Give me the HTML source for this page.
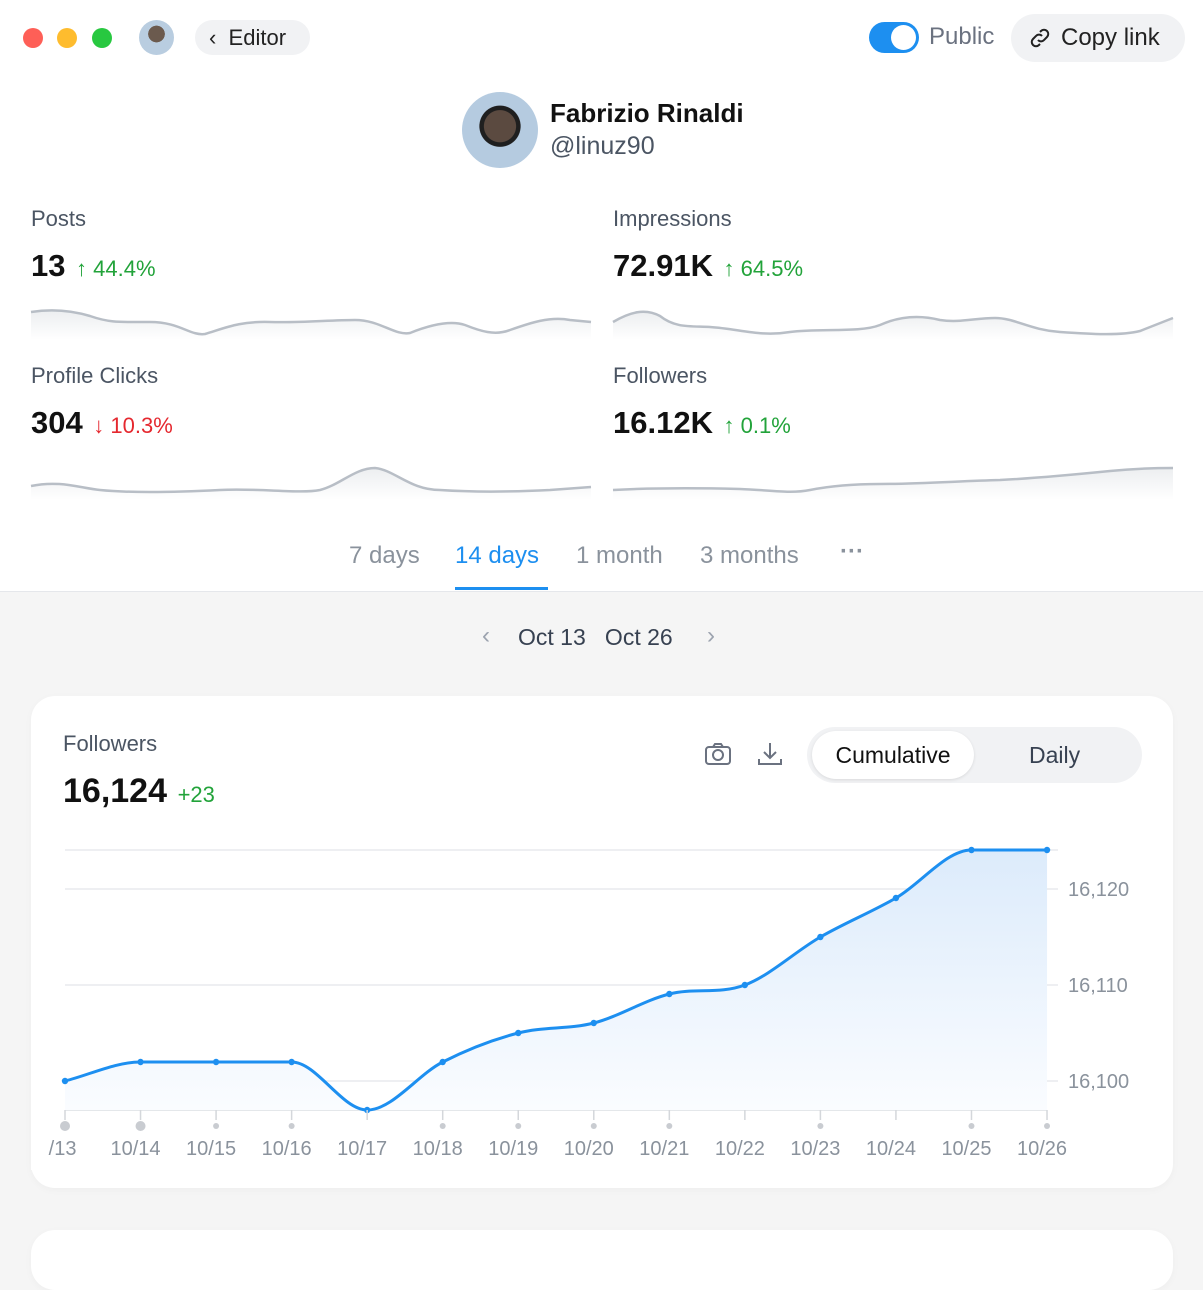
<!DOCTYPE html>
<html><head><meta charset="utf-8"><style>
*{box-sizing:border-box;margin:0;padding:0}
body{width:1203px;height:1259px;overflow:hidden;font-family:"Liberation Sans",sans-serif;background:#f5f5f5;position:relative;color:#111}
.top{position:absolute;left:0;top:0;width:1203px;height:592px;background:#fff;border-bottom:1px solid #e5e7eb}
.abs{position:absolute}
.dot{position:absolute;top:28px;width:20px;height:20px;border-radius:50%}
.lbl{color:#4b5563;font-size:22px}
.big{font-size:31px;font-weight:bold;color:#111}
.up{color:#22a33a;font-size:22px}
.dn{color:#e5282f;font-size:22px}
.tab{position:absolute;top:542px;font-size:24px;color:#8a929c}
.card{position:absolute;left:31px;width:1142px;background:#fff;border-radius:24px;box-shadow:0 2px 8px rgba(0,0,0,0.03)}
</style></head><body>
<div class="top"></div>
<div class="dot" style="left:23px;background:#fe5f57"></div>
<div class="dot" style="left:57px;background:#febc2e"></div>
<div class="dot" style="left:92px;background:#28c840"></div>
<div class="abs" style="left:139px;top:20px;width:35px;height:35px;border-radius:50%;background:radial-gradient(circle at 50% 40%,#6b5a4e 0 30%,#b9cde0 31%)"></div>
<div class="abs" style="left:195px;top:20px;width:115px;height:35px;border-radius:18px;background:#f1f2f4;font-size:22px;line-height:35px;padding-left:14px;color:#222">‹&nbsp; Editor</div>
<div class="abs" style="left:869px;top:22px;width:50px;height:31px;border-radius:16px;background:#1d8ff0"><div style="position:absolute;right:3px;top:3px;width:25px;height:25px;border-radius:50%;background:#fff"></div></div>
<div class="abs" style="left:929px;top:23px;font-size:24px;color:#6b7280">Public</div>
<div class="abs" style="left:1011px;top:14px;width:174px;height:48px;border-radius:24px;background:#f1f2f4;font-size:24px;line-height:48px;padding-left:50px;color:#222">Copy link</div>
<svg class="abs" style="left:1028px;top:26px" width="24" height="24" viewBox="0 0 24 24" fill="none" stroke="#222" stroke-width="2"><path d="M10 14a4 4 0 0 0 6 0l3-3a4 4 0 0 0-6-6l-1 1"/><path d="M14 10a4 4 0 0 0-6 0l-3 3a4 4 0 0 0 6 6l1-1"/></svg>
<div class="abs" style="left:462px;top:92px;width:76px;height:76px;border-radius:50%;background:radial-gradient(circle at 50% 45%,#5b4a40 0 28%,#1f1f1f 29% 36%,#b5cbe0 37%)"></div>
<div class="abs" style="left:550px;top:98px;font-size:26px;font-weight:bold;color:#111">Fabrizio Rinaldi</div>
<div class="abs" style="left:550px;top:132px;font-size:25px;color:#4b5563">@linuz90</div>

<div class="abs lbl" style="left:31px;top:206px">Posts</div>
<div class="abs" style="left:31px;top:248px"><span class="big">13</span> <span class="up">&nbsp;↑ 44.4%</span></div>
<div class="abs lbl" style="left:613px;top:206px">Impressions</div>
<div class="abs" style="left:613px;top:248px"><span class="big">72.91K</span> <span class="up">&nbsp;↑ 64.5%</span></div>
<div class="abs lbl" style="left:31px;top:363px">Profile Clicks</div>
<div class="abs" style="left:31px;top:405px"><span class="big">304</span> <span class="dn">&nbsp;↓ 10.3%</span></div>
<div class="abs lbl" style="left:613px;top:363px">Followers</div>
<div class="abs" style="left:613px;top:405px"><span class="big">16.12K</span> <span class="up">&nbsp;↑ 0.1%</span></div>

<svg class="abs" style="left:0;top:0" width="1203" height="520">
<defs><linearGradient id="sg" x1="0" y1="0" x2="0" y2="1"><stop offset="0" stop-color="#eceef0"/><stop offset="1" stop-color="#fff"/></linearGradient></defs>
<g fill="url(#sg)" stroke="none">
<path d="M31 312 C50 309 70 310 90 316 C110 323 120 322 150 322 C180 322 190 336 205 334 C225 328 240 321 270 322 C300 323 330 320 355 320 C380 320 395 336 410 333 C430 325 450 320 465 325 C480 331 495 336 510 330 C530 323 550 316 570 320 L591 322 L591 340 L31 340Z"/>
<path d="M613 322 C630 312 645 308 660 316 C675 328 690 326 710 327 C740 329 760 337 790 332 C820 328 860 333 880 325 C900 316 920 315 940 320 C960 323 975 318 995 318 C1015 318 1030 330 1060 332 C1090 334 1120 336 1140 331 L1173 318 L1173 340 L613 340Z"/>
<path d="M31 486 C60 480 80 488 100 490 C130 493 180 492 220 490 C260 488 300 494 320 490 C340 485 355 468 375 468 C395 470 410 490 440 490 C470 492 510 492 550 490 L591 487 L591 500 L31 500Z"/>
<path d="M613 490 C650 488 700 488 740 489 C770 490 790 494 810 490 C830 486 850 484 880 484 C920 484 960 481 1000 480 C1040 478 1080 474 1110 471 C1140 468 1160 468 1173 468 L1173 500 L613 500Z"/>
</g>
<g fill="none" stroke="#b8bec6" stroke-width="2.5">
<path d="M31 312 C50 309 70 310 90 316 C110 323 120 322 150 322 C180 322 190 336 205 334 C225 328 240 321 270 322 C300 323 330 320 355 320 C380 320 395 336 410 333 C430 325 450 320 465 325 C480 331 495 336 510 330 C530 323 550 316 570 320 L591 322"/>
<path d="M613 322 C630 312 645 308 660 316 C675 328 690 326 710 327 C740 329 760 337 790 332 C820 328 860 333 880 325 C900 316 920 315 940 320 C960 323 975 318 995 318 C1015 318 1030 330 1060 332 C1090 334 1120 336 1140 331 L1173 318"/>
<path d="M31 486 C60 480 80 488 100 490 C130 493 180 492 220 490 C260 488 300 494 320 490 C340 485 355 468 375 468 C395 470 410 490 440 490 C470 492 510 492 550 490 L591 487"/>
<path d="M613 490 C650 488 700 488 740 489 C770 490 790 494 810 490 C830 486 850 484 880 484 C920 484 960 481 1000 480 C1040 478 1080 474 1110 471 C1140 468 1160 468 1173 468"/>
</g></svg>

<div class="tab" style="left:349px">7 days</div>
<div class="tab" style="left:455px;color:#1d8ff0">14 days</div>
<div class="abs" style="left:455px;top:587px;width:93px;height:3px;background:#1d8ff0"></div>
<div class="tab" style="left:576px">1 month</div>
<div class="tab" style="left:700px">3 months</div>
<div class="tab" style="left:840px;top:538px;font-weight:bold">···</div>

<div class="abs" style="left:482px;top:622px;font-size:24px;color:#9ca3af">‹</div>
<div class="abs" style="left:518px;top:624px;font-size:23px;color:#374151">Oct 13&nbsp;&nbsp; Oct 26</div>
<div class="abs" style="left:707px;top:622px;font-size:24px;color:#9ca3af">›</div>

<div class="card" style="top:696px;height:492px"></div>
<div class="card" style="top:1230px;height:60px"></div>
<div class="abs lbl" style="left:63px;top:731px">Followers</div>
<div class="abs" style="left:63px;top:772px"><span class="big" style="font-size:34px">16,124</span> <span class="up">&nbsp;+23</span></div>
<svg class="abs" style="left:704px;top:741px" width="28" height="26" viewBox="0 0 28 26" fill="none" stroke="#6b7280" stroke-width="2"><rect x="2" y="6" width="24" height="17" rx="3"/><path d="M9 6l2-3h6l2 3"/><circle cx="14" cy="14" r="5"/></svg>
<svg class="abs" style="left:756px;top:740px" width="28" height="28" viewBox="0 0 28 28" fill="none" stroke="#6b7280" stroke-width="2"><path d="M14 3v15M8 12l6 6 6-6M3 19v5h22v-5"/></svg>
<div class="abs" style="left:807px;top:727px;width:335px;height:56px;border-radius:28px;background:#f1f2f4"></div>
<div class="abs" style="left:812px;top:731px;width:162px;height:48px;border-radius:24px;background:#fff;box-shadow:0 1px 3px rgba(0,0,0,0.1);font-size:23px;line-height:48px;text-align:center;color:#111">Cumulative</div>
<div class="abs" style="left:1029px;top:742px;font-size:23px;color:#374151">Daily</div>

<svg class="abs" style="left:0;top:0" width="1203" height="1259" id="ch">
<defs><linearGradient id="fg" x1="0" y1="0" x2="0" y2="1"><stop offset="0" stop-color="#dcebfb"/><stop offset="1" stop-color="#fafcff"/></linearGradient></defs>
<g stroke="#e8eaed" stroke-width="1.5"><line x1="65" y1="850" x2="1058" y2="850"/><line x1="65" y1="889" x2="1058" y2="889"/><line x1="65" y1="985" x2="1058" y2="985"/><line x1="65" y1="1081" x2="1058" y2="1081"/><line x1="65" y1="1110" x2="1047" y2="1110" stroke="#dcdfe3"/></g>
<g font-size="20" fill="#8a929c"><text x="1068" y="896">16,120</text><text x="1068" y="992">16,110</text><text x="1068" y="1088">16,100</text></g>
<path id="area" fill="url(#fg)"/><path id="line" fill="none" stroke="#1d8ff0" stroke-width="3"/>
<g id="pts" fill="#1d8ff0"></g><g id="ax" font-size="20" fill="#8a929c" text-anchor="middle"></g>
</svg>
<script>
var ys=[1081,1062,1062,1062,1110,1062,1033,1023,994,985,937,898,850,850];
var xs=ys.map(function(_,i){return 65+i*75.54});
var n=ys.length,m=[];
for(var i=0;i<n;i++){var a=i>0?(ys[i]-ys[i-1])/(xs[i]-xs[i-1]):null,b=i<n-1?(ys[i+1]-ys[i])/(xs[i+1]-xs[i]):null;
if(a===null)m.push(b);else if(b===null)m.push(a);else if(a*b<=0)m.push(0);else m.push((a+b)/2);}
var d="M"+xs[0]+" "+ys[0];
for(i=0;i<n-1;i++){var h=(xs[i+1]-xs[i])/3;d+=" C"+(xs[i]+h)+" "+(ys[i]+m[i]*h)+" "+(xs[i+1]-h)+" "+(ys[i+1]-m[i+1]*h)+" "+xs[i+1]+" "+ys[i+1];}
document.getElementById('line').setAttribute('d',d);
document.getElementById('area').setAttribute('d',d+" L"+xs[n-1]+" 1110 L65 1110Z");
var labs=['10/13','10/14','10/15','10/16','10/17','10/18','10/19','10/20','10/21','10/22','10/23','10/24','10/25','10/26'];
var p='',t='';
for(i=0;i<n;i++){p+='<circle cx="'+xs[i]+'" cy="'+ys[i]+'" r="3.2"/>';
t+='<line x1="'+xs[i]+'" y1="1110" x2="'+xs[i]+'" y2="1120" stroke="#d4d7db" stroke-width="1.5"/>';
if(i!=4&&i!=9&&i!=11)t+='<circle cx="'+xs[i]+'" cy="1126" r="'+(i<2?5:3)+'" fill="#c9ccd1"/>';
t+='<text x="'+(i==0?57:xs[i]-5)+'" y="1155">'+(i==0?'0/13':labs[i])+'</text>';}
document.getElementById('pts').innerHTML=p;
document.getElementById('ax').innerHTML=t;
</script>
<div class="abs" style="left:31px;top:1130px;width:17px;height:40px;background:#fff"></div>
</body></html>
